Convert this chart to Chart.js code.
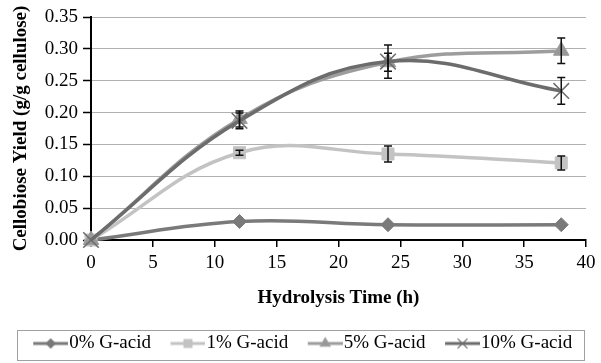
<!DOCTYPE html>
<html>
<head>
<meta charset="utf-8">
<script src="https://cdn.jsdelivr.net/npm/chart.js@4/dist/chart.umd.min.js"></script>
<style>
  html, body { margin: 0; padding: 0; background: #fff; }
  #wrap { width: 601px; height: 363px; }
</style>
</head>
<body>
<div id="wrap"><canvas id="yieldChart" width="601" height="363"></canvas></div>
<script>
// hydrolysis sampling times (h)
const hours = [0, 12, 24, 38];

// cellobiose yield (g/g cellulose) per G-acid loading
const acid0 = [0, 0.029, 0.024, 0.024];
const acid1 = [0, 0.137, 0.135, 0.121];
const acid5 = [0, 0.190, 0.279, 0.297];
const acid10 = [0, 0.187, 0.280, 0.234];

// standard deviations for the error bars
const err0 = [0, 0, 0, 0];
const err1 = [0, 0.004, 0.0125, 0.011];
const err5 = [0, 0.0125, 0.014, 0.020];
const err10 = [0, 0.0125, 0.026, 0.021];

const seriesLabels = ["0% G-acid", "1% G-acid", "5% G-acid", "10% G-acid"];
const yTicks = [0, 0.05, 0.10, 0.15, 0.20, 0.25, 0.30, 0.35];

const FONT = "'Liberation Serif', 'Times New Roman', serif";

const styles = [
    { line: "#7a7a7a", fill: "#7a7a7a", point: "rectRot", radius: 7, legendRadius: 4.5 },
    { line: "#c3c3c3", fill: "#c3c3c3", point: "rect", radius: 8.5, legendRadius: 5.5 },
    { line: "#9d9d9d", fill: "#989898", point: "triangle", radius: 9, legendRadius: 5.5 },
    { line: "#6c6c6c", fill: "#6c6c6c", point: "crossRot", radius: 11, legendRadius: 7 }
];

// small canvas with a line segment and its marker, used as legend symbol
function makeIcon(st) {
    const c = document.createElement("canvas");
    c.width = 53;
    c.height = 20;
    const ctx = c.getContext("2d");
    ctx.strokeStyle = st.line;
    ctx.lineWidth = 3;
    ctx.beginPath();
    ctx.moveTo(18, 10);
    ctx.lineTo(53, 10);
    ctx.stroke();
    ctx.fillStyle = st.fill;
    ctx.strokeStyle = st.line;
    ctx.lineWidth = 1.2;
    Chart.helpers.drawPoint(ctx, { pointStyle: st.point, radius: st.legendRadius, borderWidth: 1.2, rotation: 0 }, 35.5, 10);
    return c;
}

const allValues = [acid0, acid1, acid5, acid10];
const allErrors = [err0, err1, err5, err10];

const datasets = allValues.map((vals, i) => ({
    label: seriesLabels[i],
    data: hours.map((h, j) => ({ x: h, y: vals[j] })),
    errors: allErrors[i],
    borderColor: styles[i].line,
    backgroundColor: styles[i].fill,
    borderWidth: 3.5,
    tension: 0.4,
    pointStyle: styles[i].point,
    pointRadius: styles[i].radius,
    pointBackgroundColor: styles[i].fill,
    pointBorderColor: styles[i].line,
    pointBorderWidth: i === 3 ? 1.5 : 1,
    clip: false,
    order: 3 - i
}));

// vertical error bars with caps
const errorBars = {
    id: "errorBars",
    afterDatasetsDraw(chart) {
        const ctx = chart.ctx;
        const xs = chart.scales.x, ys = chart.scales.y;
        ctx.save();
        ctx.strokeStyle = "#111";
        ctx.lineWidth = 1.5;
        chart.data.datasets.forEach(ds => {
            ds.data.forEach((p, j) => {
                const e = ds.errors[j];
                if (!e) return;
                const px = xs.getPixelForValue(p.x);
                const top = ys.getPixelForValue(p.y + e);
                const bot = ys.getPixelForValue(p.y - e);
                ctx.beginPath();
                ctx.moveTo(px, top);
                ctx.lineTo(px, bot);
                ctx.moveTo(px - 4, top);
                ctx.lineTo(px + 4, top);
                ctx.moveTo(px - 4, bot);
                ctx.lineTo(px + 4, bot);
                ctx.stroke();
            });
        });
        ctx.restore();
    }
};

// frame around the legend
const legendFrame = {
    id: "legendFrame",
    afterDraw(chart) {
        const hb = chart.legend.legendHitBoxes;
        if (!hb || !hb.length) return;
        const first = hb[0], last = hb[hb.length - 1];
        const left = first.left + 9.5 - 16;
        const right = last.left + last.width + 12;
        const ctx = chart.ctx;
        ctx.save();
        ctx.strokeStyle = "#a0a0a0";
        ctx.lineWidth = 1;
        ctx.strokeRect(Math.round(left) + 0.5, Math.round(first.top - 4) + 0.5,
            Math.round(right - left), 30);
        ctx.restore();
    }
};

new Chart(document.getElementById("yieldChart"), {
    type: "line",
    data: { datasets },
    options: {
        responsive: false,
        animation: false,
        devicePixelRatio: 1,
        layout: { padding: { top: 17, right: 15, bottom: 0, left: 10 } },
        plugins: {
            tooltip: { enabled: false },
            legend: {
                position: "bottom",
                labels: {
                    usePointStyle: true,
                    pointStyleWidth: 36,
                    padding: 10,
                    color: "#000",
                    font: { family: FONT, size: 19 },
                    sort: (a, b) => a.datasetIndex - b.datasetIndex,
                    generateLabels(chart) {
                        const items = Chart.defaults.plugins.legend.labels.generateLabels(chart);
                        items.forEach(it => { it.pointStyle = makeIcon(styles[it.datasetIndex]); });
                        return items;
                    }
                }
            }
        },
        scales: {
            x: {
                type: "linear",
                min: 0,
                max: 40,
                afterFit(scale) { scale.height = 84; },
                ticks: { stepSize: 5, color: "#000", padding: 5, font: { family: FONT, size: 19 } },
                grid: { drawOnChartArea: false, tickLength: 7, tickColor: "#000", lineWidth: 1.5 },
                border: { color: "#000", width: 2 },
                title: {
                    display: true,
                    text: "Hydrolysis Time (h)",
                    color: "#000",
                    padding: { top: 0, bottom: 14.5 },
                    font: { family: FONT, size: 19, weight: "bold" }
                }
            },
            y: {
                min: 0,
                max: 0.35,
                afterFit(scale) { scale.width = 81; },
                afterBuildTicks(scale) { scale.ticks = yTicks.map(v => ({ value: v })); },
                ticks: {
                    color: "#000",
                    padding: 5,
                    font: { family: FONT, size: 19 },
                    callback: v => v.toFixed(2)
                },
                grid: { color: "#b0b0b0", lineWidth: 1, tickLength: 8, tickColor: "#000", tickWidth: 1.5 },
                border: { color: "#000", width: 2 },
                title: {
                    display: true,
                    text: "Cellobiose Yield (g/g cellulose)",
                    color: "#000",
                    padding: { top: 0, bottom: 0 },
                    font: { family: FONT, size: 19, weight: "bold" }
                }
            }
        }
    },
    plugins: [errorBars, legendFrame]
});
</script>
</body>
</html>
